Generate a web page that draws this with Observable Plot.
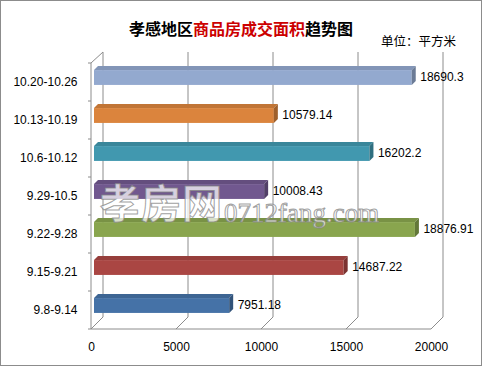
<!DOCTYPE html>
<html>
<head>
<meta charset="utf-8">
<script src="https://cdn.jsdelivr.net/npm/d3@7"></script>
<script src="https://cdn.jsdelivr.net/npm/@observablehq/plot@0.6"></script>
<style>
  html, body { margin: 0; padding: 0; background: #fff; }
  #wrap { position: relative; width: 482px; height: 366px; box-sizing: border-box; border: 1px solid #8c8c8c; background: #fff; overflow: hidden; }
  #head { position: relative; height: 49px; }
  #title { position: absolute; left: 0; width: 480px; top: 16px; text-align: center; font-family: "Noto Sans CJK SC", sans-serif; font-weight: bold; font-size: 16px; line-height: 22px; color: #000; }
  #title .hl { color: #cc0000; }
  #unit { position: absolute; left: 380px; top: 32px; font-family: "Noto Sans CJK SC", sans-serif; font-size: 12.5px; line-height: 16px; color: #000; }
  #chart svg { display: block; }
  .wm { position: absolute; pointer-events: none; color: rgba(255,255,255,0.72); -webkit-text-stroke: 1px rgba(130,130,130,0.75); white-space: nowrap; }
  #wm1 { left: 99px; top: 180px; font-family: "Noto Sans CJK SC", sans-serif; font-weight: bold; font-size: 40px; line-height: 1; letter-spacing: 1px; }
  #wm2 { left: 223px; top: 203px; font-family: "Liberation Serif", serif; font-size: 27px; line-height: 18px; height: 18px; }
</style>
</head>
<body>
<div id="wrap">
  <div id="head">
    <div id="title">孝感地区<span class="hl">商品房成交面积</span>趋势图</div>
    <div id="unit">单位：平方米</div>
  </div>
  <div id="chart"></div>
  <div class="wm" id="wm1">孝房网</div>
  <div class="wm" id="wm2">0712fang.com</div>
</div>
<script>
const categories = ["9.8-9.14", "9.15-9.21", "9.22-9.28", "9.29-10.5", "10.6-10.12", "10.13-10.19", "10.20-10.26"];
const values = [7951.18, 14687.22, 18876.91, 10008.43, 16202.2, 10579.14, 18690.3];
const valueLabels = ["7951.18", "14687.22", "18876.91", "10008.43", "16202.2", "10579.14", "18690.3"];
const colors = ["#4572A7", "#AA4643", "#89A54E", "#71588F", "#4198AF", "#DB843D", "#93A9CF"];
const xTicks = [0, 5000, 10000, 15000, 20000];

const data = categories.map((c, i) => ({cat: c, value: values[i], label: valueLabels[i], color: colors[i]}));

const DEPTH = 12;      // wall depth offset (px)
const BAR_D = 4;       // bar 3D depth (px)
const BAR_UP = 4.5;    // bar front face shift up from band centre
const BAR_H = 15;      // bar front face height
const GRID = "#8c8c8c";

const ns = "http://www.w3.org/2000/svg";
function el(tag, attrs) {
  const e = document.createElementNS(ns, tag);
  for (const k in attrs) e.setAttribute(k, attrs[k]);
  return e;
}

// walls, floor and gridlines drawn from the scales
function walls(index, scales, values, dims) {
  const g = el("g", {fill: "none", stroke: GRID, "stroke-width": 1});
  const {x, y} = scales;
  const top = dims.marginTop, bottom = dims.height - dims.marginBottom;
  const x0 = x(0) - 3;
  const ln = (x1, y1, x2, y2) => g.appendChild(el("line", {x1, y1, x2, y2}));
  for (const t of xTicks) ln(x(t) - 3 + DEPTH, top - DEPTH + 2, x(t) - 3 + DEPTH, bottom - DEPTH);
  for (const t of xTicks) ln(x(t) - 3, bottom, x(t) - 3 + DEPTH, bottom - DEPTH);
  ln(x0, bottom, x(xTicks[xTicks.length - 1]) - 3, bottom);
  ln(x0, top + 1, x0, bottom);
  ln(x0, top + 1, x0 + DEPTH, top - DEPTH + 2);
  for (const c of categories) {
    const yb = y(c);
    ln(x0 - 3, yb, x0, yb);
  }
  ln(x0 - 3, bottom, x0, bottom);
  return g;
}

// 3D faces of each bar (top and end) from scales
function barFaces(index, scales, vals, dims) {
  const g = el("g", {});
  const {x, y} = scales;
  for (const d of data) {
    const yc = y(d.cat) + y.bandwidth() / 2 - BAR_UP;
    const yt = yc - BAR_H / 2, yb = yc + BAR_H / 2;
    const xa = x(0), xb = x(d.value);
    const c = d3.color(d.color);
    g.appendChild(el("polygon", {
      points: `${xa},${yt} ${xb},${yt} ${xb + BAR_D},${yt - BAR_D} ${xa + BAR_D},${yt - BAR_D}`,
      fill: c.darker(0.35).formatHex()
    }));
    g.appendChild(el("polygon", {
      points: `${xb},${yt} ${xb + BAR_D},${yt - BAR_D} ${xb + BAR_D},${yb - BAR_D} ${xb},${yb}`,
      fill: c.darker(0.9).formatHex()
    }));
  }
  return g;
}

const band = 267 / 7;
const inTop = band / 2 - BAR_UP - BAR_H / 2;
const inBottom = band - inTop - BAR_H;

const chart = Plot.plot({
  width: 480,
  height: 315,
  marginLeft: 93,
  marginRight: 47,
  marginTop: 12,
  marginBottom: 36,
  style: {fontFamily: "'Liberation Sans', Arial, sans-serif", fontSize: "12px", color: "#000", background: "transparent", overflow: "visible"},
  x: {domain: [0, 20000], ticks: xTicks},
  y: {domain: categories.slice().reverse(), padding: 0, align: 0.5},
  marks: [
    walls,
    Plot.barX(data, {x: "value", y: "cat", fill: "color", insetTop: inTop, insetBottom: inBottom}),
    barFaces,
    Plot.text(data, {x: "value", y: "cat", text: "label", textAnchor: "start", dx: 8, dy: -5, fontSize: 12, fill: "#000"}),
    Plot.axisX({ticks: xTicks, tickSize: 0, tickPadding: 13, dx: -3, tickFormat: d => String(d), label: null, fontSize: 12}),
    Plot.axisY({tickSize: 0, tickPadding: 17, label: null, fontSize: 12})
  ]
});
document.getElementById("chart").appendChild(chart);
</script>
</body>
</html>
